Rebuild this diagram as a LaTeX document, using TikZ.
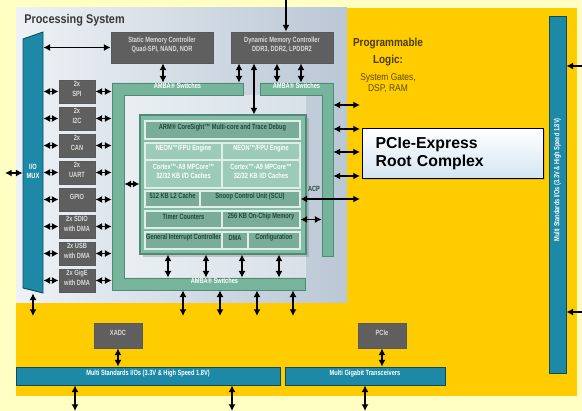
\documentclass[tikz,border=0pt]{standalone}
\usepackage{fontspec}
\setmainfont{Liberation Sans}
\newfontfamily\condfont[FakeStretch=0.75]{Liberation Sans}
\newfontfamily\psfont[FakeStretch=0.86]{Liberation Sans}
\usepackage{tikz}
\usetikzlibrary{arrows.meta, positioning, fit, shadows}

\definecolor{paleyel}{HTML}{FFFFC4}
\definecolor{plgold}{HTML}{FFCC00}
\definecolor{psleft}{HTML}{EEF2F6}
\definecolor{psright}{HTML}{BAC7D5}
\definecolor{boxgray}{HTML}{5F5F5F}
\definecolor{ioteal}{HTML}{1E89A6}
\definecolor{ambagreen}{HTML}{77B49C}
\definecolor{apugreen}{HTML}{83BCA6}
\definecolor{neongreen}{HTML}{9CCBB9}
\definecolor{apuedge}{HTML}{4F8A74}
\definecolor{apudark}{HTML}{23483A}
\definecolor{oliveink}{HTML}{4A3B00}
\definecolor{rcblue}{HTML}{D3E5F2}

\tikzset{
  arr/.style={line width=1pt, {Latex[length=3.8pt,width=4pt]}-{Latex[length=3.8pt,width=4pt]}},
  arrin/.style={line width=1pt, -{Latex[length=3.8pt,width=4pt]}},
  smalltxt/.style={font=\condfont\bfseries\fontsize{4.3}{5.2}\selectfont, align=center},
  pbox/.style={smalltxt, fill=boxgray, draw=black!65, line width=0.5pt, inner sep=0pt, text=white!85!black},
  iobar/.style={smalltxt, fill=ioteal, draw=ioteal!55!black, line width=0.5pt, inner sep=0pt, text=white},
  bartxt/.style={smalltxt, inner sep=0pt, text=white},
  cbox/.style={smalltxt, fill=apugreen!92!black, draw=white!75!apugreen, line width=0.6pt, inner sep=0pt, text=apudark},
  nbox/.style={cbox, fill=neongreen, text=white},
}

\begin{document}
\begin{tikzpicture}[x=0.02cm, y=-0.02cm]
  \useasboundingbox (0,0) rectangle (582,411);
  % 背景与可编程逻辑区
  \fill[paleyel] (0,0) rectangle (582,411);
  \fill[plgold] (16,8) rectangle (577,396);
  \shade[left color=psleft, right color=psright] (16,8) rectangle (347,303);

  % 标题
  \node[font=\psfont\bfseries\fontsize{7.2}{8}\selectfont, text=black!78, anchor=base west, inner sep=0pt] (pstitle) at (24,24) {Processing System};
  \node[font=\psfont\bfseries\fontsize{6.6}{10.2}\selectfont, text=oliveink, align=center] (pltitle) at (388,52) {Programmable\\Logic:};
  \node[font=\psfont\fontsize{5.6}{6.4}\selectfont, text=oliveink!90!plgold, align=center, below=-3pt of pltitle] (plsub) {System Gates,\\DSP, RAM};

  % I/O MUX
  \filldraw[fill=ioteal, draw=ioteal!55!black, line width=0.5pt] (23,39) -- (43,32) -- (43,293) -- (23,288) -- cycle;
  \node[fit={(23,32) (43,293)}, inner sep=0pt] (iomux) {};
  \node[bartxt] (iomuxtxt) at (33,171) {I/O\\MUX};

  % 存储控制器
  \node[pbox, fit={(111,32) (213,63)}] (smc) {Static Memory Controller\\Quad-SPI, NAND, NOR};
  \node[pbox, fit={(231,32) (333,63)}] (dmc) {Dynamic Memory Controller\\DDR3, DDR2, LPDDR2};

  % AMBA 开关
  \fill[white, opacity=0.4] (124,95) rectangle (306,278);
  \filldraw[fill=ambagreen, draw=apuedge, line width=0.5pt] (112,83) -- (243,83) -- (243,95) -- (124,95) -- (124,278) -- (305,278) -- (305,290) -- (112,290) -- cycle;
  \filldraw[fill=ambagreen, draw=apuedge, line width=0.5pt] (260,83) -- (333,83) -- (333,256) -- (322,256) -- (322,95) -- (260,95) -- cycle;
  \node[bartxt, fit={(112,83) (243,95)}] (ambaT) {AMBA® Switches};
  \node[fit={(112,83) (124,290)}, inner sep=0pt] (ambaLv) {};
  \node[bartxt, fit={(124,278) (305,290)}] (ambaB) {AMBA® Switches};
  \node[bartxt, fit={(260,83) (333,95)}] (ambaTR) {AMBA® Switches};
  \node[fit={(322,83) (333,256)}, inner sep=0pt] (ambaRv) {};

  % 外设
  \foreach \nm/\txt [count=\i from 0] in {spi/{2x\\SPI}, i2c/{2x\\I2C}, can/{2x\\CAN}, uart/{2x\\UART}, gpio/{GPIO}, sdio/{2x SDIO\\with DMA}, usb/{2x USB\\with DMA}, gige/{2x GigE\\with DMA}} {
    \pgfmathsetmacro\yt{80+27*\i}
    \pgfmathsetmacro\yb{103+27*\i}
    \node[pbox, fit={(59,\yt) (95,\yb)}] (\nm) {\txt};
    \draw[arr] (iomux.east |- \nm.west) -- (\nm.west);
    \draw[arr] (\nm.east) -- (ambaLv.west |- \nm.east);
  }

  % 应用处理器
  \node[fill=apugreen, draw=apuedge, line width=0.6pt, inner sep=0pt, drop shadow={shadow xshift=1.5pt, shadow yshift=-1.5pt, opacity=0.35}, fit={(140,115) (306,254)}] (apu) {};
  \node[cbox, fit={(145,121) (300,139)}] (coresight) {ARM® CoreSight™ Multi-core and Trace Debug};
  \node[nbox, fit={(145,143) (222,160)}] (neonA) {NEON™/FPU Engine};
  \node[nbox, fit={(222,143) (300,160)}] (neonB) {NEON™/FPU Engine};
  \node[nbox, fit={(145,160) (222,188)}] (cortexA) {Cortex™-A9 MPCore™\\32/32 KB I/D Caches};
  \node[nbox, fit={(222,160) (300,188)}] (cortexB) {Cortex™-A9 MPCore™\\32/32 KB I/D Caches};
  \node[cbox, fit={(145,191) (200,207)}] (ltwo) {512 KB L2 Cache};
  \node[cbox, fit={(200,191) (300,207)}] (scu) {Snoop Control Unit (SCU)};
  \node[cbox, fit={(145,211) (222,228)}] (timer) {Timer Counters};
  \node[cbox, fit={(222,211) (300,228)}] (ocm) {256 KB On-Chip Memory};
  \node[cbox, fit={(145,232) (222,249)}] (gic) {General Interrupt Controller};
  \node[cbox, fit={(222,232) (248,249)}] (dma) {DMA};
  \node[cbox, fit={(248,232) (300,249)}] (config) {Configuration};
  \node[smalltxt, text=apudark, inner sep=0pt] (acplabel) at (314,189) {ACP};

  % PCIe 根复合体
  \node[draw=black, line width=0.8pt, top color=white, bottom color=rcblue, minimum width=3.62cm, minimum height=1cm, text width=3.1cm, align=left, inner sep=0pt, anchor=north west, font=\bfseries\fontsize{9}{10.6}\selectfont, drop shadow={shadow xshift=1pt, shadow yshift=-1pt, opacity=0.3}] (rootcx) at (362,128) {PCIe-Express\\Root Complex};

  % 底部 I/O
  \node[pbox, fit={(94,323) (142,348)}] (xadc) {XADC};
  \node[pbox, fit={(358,323) (406,348)}] (pcie) {PCIe};
  \node[iobar, fit={(16,367) (280,385)}] (msio) {Multi Standards I/Os (3.3V \& High Speed 1.8V)};
  \node[iobar, fit={(285,367) (445,385)}] (mgt) {Multi Gigabit Transceivers};
  \node[iobar, fit={(549,16) (566,373)}] (msior) {};
  \node[bartxt, rotate=90] (msiortxt) at (557.5,180) {Multi Standards I/Os (3.3V \& High Speed 1.8V)};

  % 上方连线
  \coordinate (ddrport) at (286,0);
  \draw[arrin] (ddrport) -- (dmc.north -| ddrport);
  \draw[arr] (iomux.east |- smc.west) -- (smc.west);
  \draw[arr] (smc.south -| 163,0) -- (ambaT.north -| 163,0);
  \draw[arr] (dmc.south -| 239,0) -- (ambaT.north -| 239,0);
  \foreach \xx in {277,301} \draw[arr] (dmc.south -| \xx,0) -- (ambaTR.north -| \xx,0);
  \draw[arr] (dmc.south -| 254,0) -- (apu.north -| 254,0);

  % 左右连线
  \coordinate (extport) at (5,173);
  \draw[arr] (extport) -- (iomux.west |- extport);
  \draw[arr] (ambaLv.east |- 0,184) -- (apu.west |- 0,184);
  \foreach \yy [count=\k] in {105,129,152,176} {
    \coordinate (plport\k) at (360,\yy);
    \draw[arr] (ambaRv.east |- plport\k) -- (plport\k);
  }
  \coordinate (acpport) at (360,199);
  \draw[arr] (scu.east) -- (acpport);
  \draw[arr] (ocm.east) -- (ambaRv.west |- ocm.east);

  % 下方连线
  \foreach \xx in {168,206,242,279} \draw[arr] (apu.south -| \xx,0) -- (ambaB.north -| \xx,0);
  \foreach \xx [count=\k] in {183,220,257,293} {
    \coordinate (psport\k) at (\xx,316);
    \draw[arr] (ambaB.south -| psport\k) -- (psport\k);
  }
  \coordinate (muxport) at (33,316);
  \draw[arr] (iomux.south) -- (muxport);
  \draw[arr] (xadc.south) -- (msio.north -| xadc.south);
  \draw[arr] (pcie.south) -- (mgt.north -| pcie.south);
  \foreach \xx [count=\k] in {75,232,365} {
    \coordinate (pinport\k) at (\xx,411);
  }
  \draw[arr] (msio.south -| pinport1) -- (pinport1);
  \draw[arr] (msio.south -| pinport2) -- (pinport2);
  \draw[arr] (mgt.south -| pinport3) -- (pinport3);
  \foreach \yy [count=\k] in {66,312} {
    \coordinate (rport\k) at (582,\yy);
    \draw[arrin] (rport\k) -- (msior.east |- rport\k);
  }
\end{tikzpicture}
\end{document}
